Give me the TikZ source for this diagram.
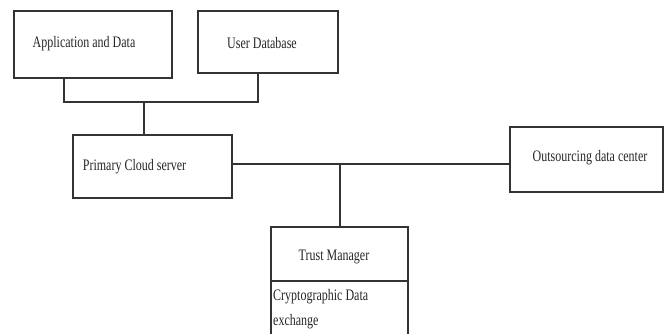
\documentclass[tikz,border=0pt]{standalone}
\usepackage{fontspec}
\setmainfont[FakeStretch=0.75]{Liberation Serif}
\begin{document}
\begin{tikzpicture}[x=1pt,y=-1pt,
  box/.style={draw=black!80,line width=1.1pt,anchor=north west,inner sep=0pt,outer sep=0pt},
  lbl/.style={inner sep=0pt,font=\fontsize{16}{17}\selectfont,text=black!85},
  wire/.style={draw=black!80,line width=1.1pt}]
\useasboundingbox[fill=white] (0,0) rectangle (672,334);
% boxes
\node[box,minimum width=158pt,minimum height=67pt] (app) at (14,11) {};
\node[box,minimum width=140pt,minimum height=62pt] (udb) at (198,11) {};
\node[box,minimum width=159pt,minimum height=63pt] (pcs) at (73,135) {};
\node[box,minimum width=153pt,minimum height=65pt] (odc) at (510,127) {};
\node[box,minimum width=137pt,minimum height=54pt] (tm) at (271,227) {};
\node[box,minimum width=137pt,minimum height=70pt] (cde) at (271,281) {};
% texts
\node[lbl] (tapp) at (84,44) {Application and Data};
\node[lbl] (tudb) at (262,43) {User Database};
\node[lbl] (tpcs) at (134.5,167) {Primary Cloud server};
\node[lbl] (todc) at (590,158) {Outsourcing data center};
\node[lbl] (ttm) at (334,257) {Trust Manager};
\node[lbl,anchor=west] (tcde1) at (273,297) {Cryptographic Data};
\node[lbl,anchor=west] (tcde2) at (273,322) {exchange};
% connectors
\coordinate (bl) at (64,102);
\coordinate (br) at (258,102);
\coordinate (bm) at (144,102);
\coordinate (jt) at (340,164);
\draw[wire] (app.south -| bl) -- (bl) -- (br) -- (udb.south -| br);
\draw[wire] (bm) -- (pcs.north -| bm);
\draw[wire] (pcs.east |- jt) -- (odc.west |- jt);
\draw[wire] (jt) -- (tm.north -| jt);
\end{tikzpicture}
\end{document}
